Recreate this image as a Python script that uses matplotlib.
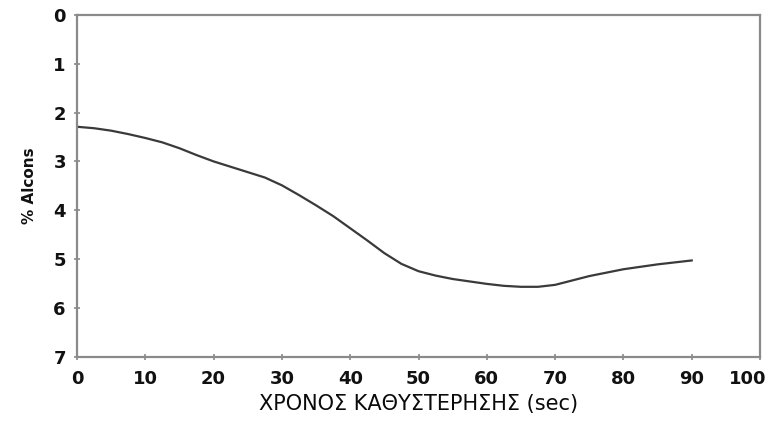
import numpy as np
import matplotlib
matplotlib.use("Agg")
import matplotlib.pyplot as plt
import matplotlib.transforms as mtransforms

# Delay time (sec) vs %Alcons
delay_sec = [0, 2.5, 5, 7.5, 10, 12.5, 15, 17.5, 20, 22.5, 25, 27.5, 30, 32.5, 35,
             37.5, 40, 42.5, 45, 47.5, 50, 52.5, 55, 57.5, 60, 62.5, 65, 67.5, 70,
             72.5, 75, 77.5, 80, 82.5, 85, 87.5, 90]
alcons_pct = [2.29, 2.32, 2.37, 2.44, 2.52, 2.61, 2.73, 2.87, 3.00, 3.11, 3.22, 3.33,
              3.49, 3.69, 3.90, 4.12, 4.37, 4.62, 4.88, 5.10, 5.25, 5.34, 5.41, 5.46,
              5.51, 5.55, 5.57, 5.57, 5.53, 5.44, 5.35, 5.28, 5.21, 5.16, 5.11, 5.07, 5.03]

x_ticks = [0, 10, 20, 30, 40, 50, 60, 70, 80, 90, 100]
y_ticks = [0, 1, 2, 3, 4, 5, 6, 7]

fig = plt.figure(figsize=(7.72, 4.23), dpi=100)
ax = fig.add_axes([0.0997, 0.157, 0.8848, 0.8075])

ax.plot(delay_sec, alcons_pct, color="#3a3a3a", lw=1.6)

ax.set_xlim(0, 100)
ax.set_ylim(7, 0)
ax.set_xticks(x_ticks)
ax.set_yticks(y_ticks)

for s in ax.spines.values():
    s.set_color("#8a8a8a")
    s.set_linewidth(1.6)

ax.tick_params(axis="both", direction="inout", length=4, width=1.2, color="#8a8a8a",
               labelsize=13, labelcolor="#111111")
ax.tick_params(axis="x", pad=8)
ax.tick_params(axis="y", pad=6)
for lbl in ax.get_xticklabels() + ax.get_yticklabels():
    lbl.set_fontweight("bold")

# pull the last x label in so it stays on the canvas
last = ax.get_xticklabels()[-1]
last.set_transform(last.get_transform() +
                   mtransforms.ScaledTranslation(-12 / 100, 0, fig.dpi_scale_trans))

ax.set_xlabel("ΧΡΟΝΟΣ ΚΑΘΥΣΤΕΡΗΣΗΣ (sec)", fontsize=15, color="#0a0a0a", labelpad=4)
ax.set_ylabel("% Alcons", fontsize=11, fontweight="bold", color="#111111", labelpad=12)

fig.savefig("out.png", dpi=100)
